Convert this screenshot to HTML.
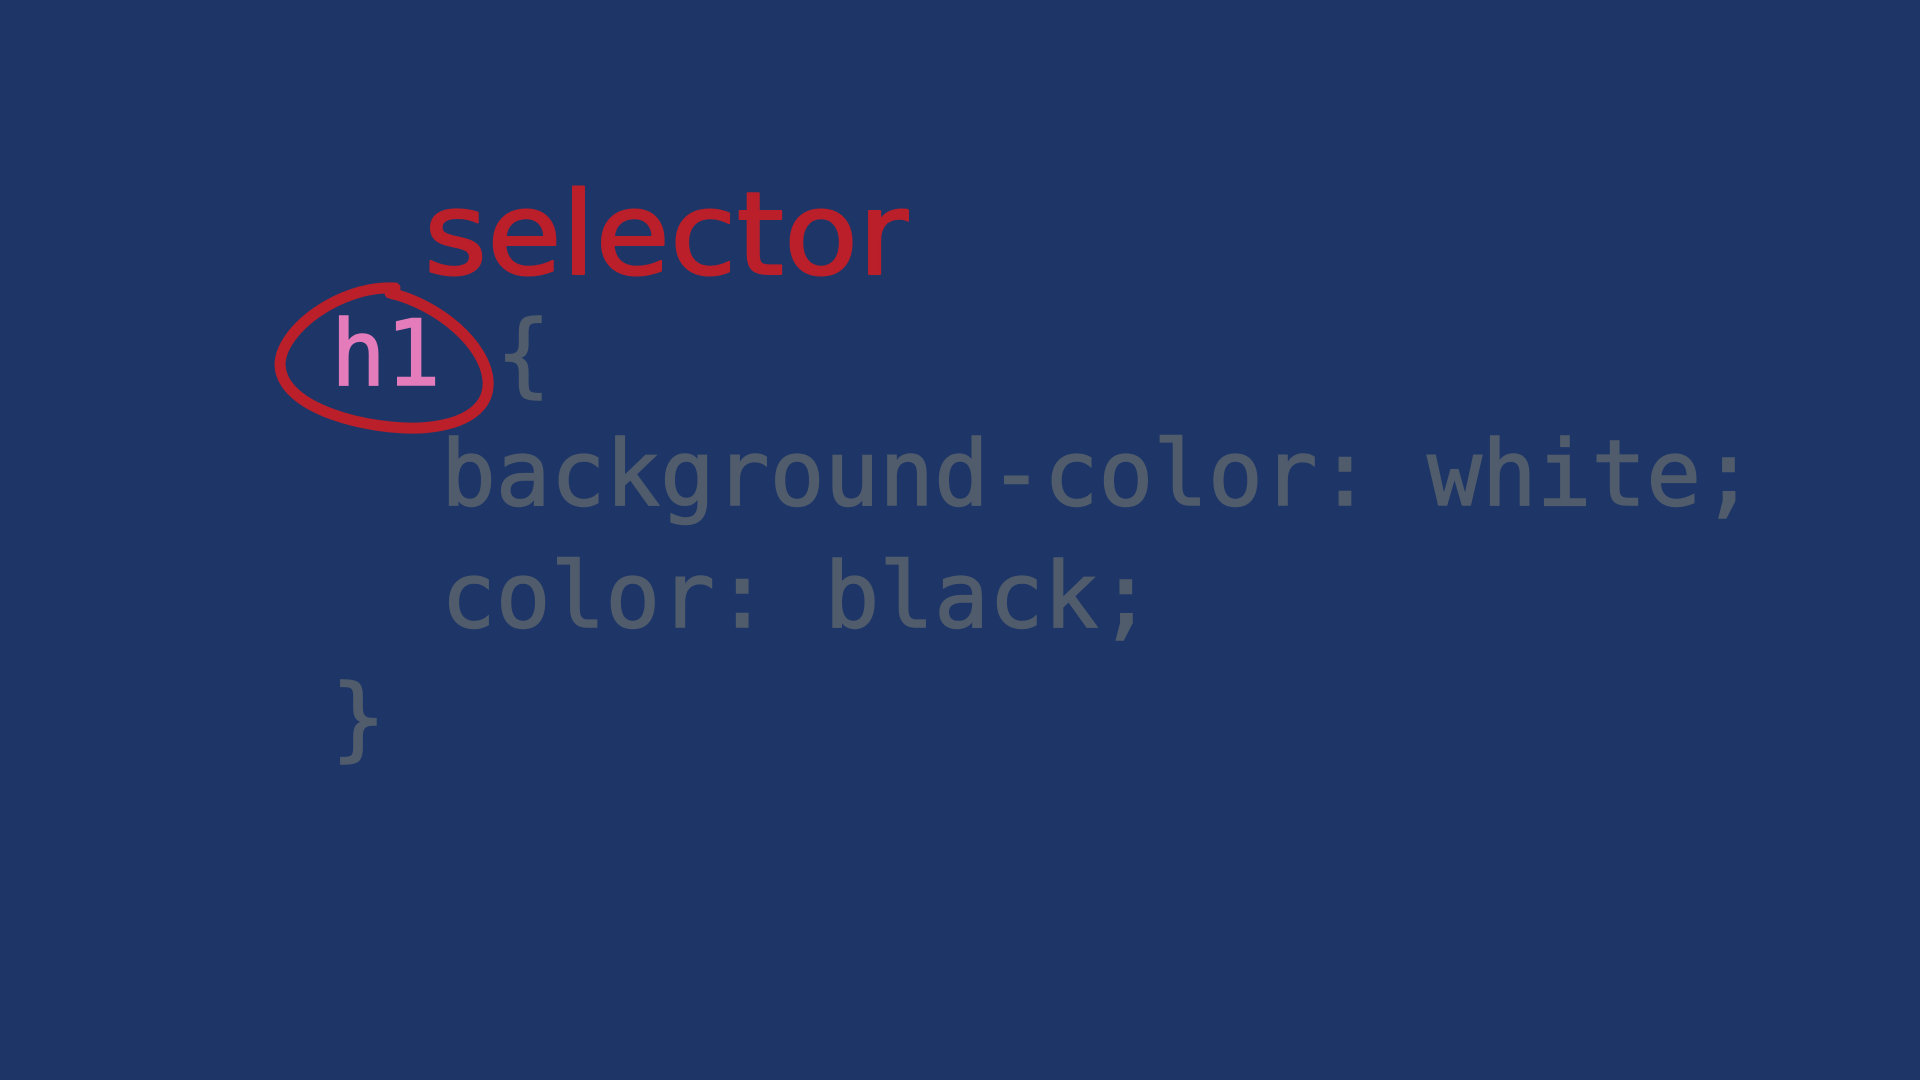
<!DOCTYPE html>
<html><head><meta charset="utf-8"><style>
html,body{margin:0;padding:0;}
body{width:1920px;height:1080px;background:#1e3667;position:relative;overflow:hidden;font-family:"DejaVu Sans Mono","Liberation Mono",monospace;}
.t{position:absolute;font-size:91px;line-height:1;color:#505c6c;white-space:pre;-webkit-text-stroke:1.5px currentColor;}
</style></head><body>
<div class="t" style="left:331px;top:309px;color:#e47cbc;">h1</div>
<div class="t" style="left:496px;top:309px;">{</div>
<div class="t" style="left:441px;top:429px;">background-color: white;</div>
<div class="t" style="left:441px;top:551px;">color: black;</div>
<div class="t" style="left:331px;top:673px;">}</div>
<svg width="1920" height="1080" style="position:absolute;left:0;top:0">
<path d="M395 288 C 340 285, 280 330, 280 365 C 282 410, 370 430, 420 428 C 470 425, 490 405, 488 380 C 485 345, 440 305, 390 293" fill="none" stroke="#bb1f2a" stroke-width="11" stroke-linecap="round"/>
<text x="424" y="274" font-family="DejaVu Sans, sans-serif" font-size="115" fill="#bb1f2a" stroke="#bb1f2a" stroke-width="2" stroke-linejoin="round" textLength="484" lengthAdjust="spacingAndGlyphs">selector</text>
</svg>
</body></html>
